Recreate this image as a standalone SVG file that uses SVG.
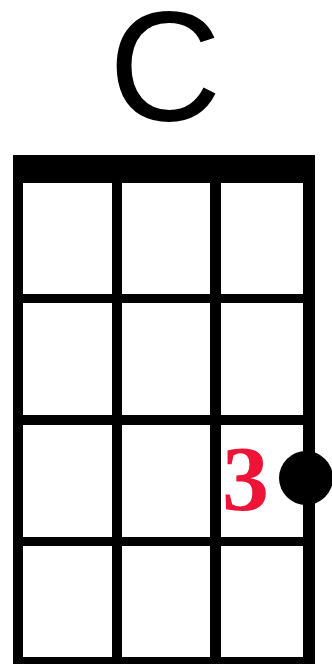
<svg xmlns="http://www.w3.org/2000/svg" width="332" height="664" viewBox="0 0 332 664">
<style>
.g{fill:#000}
.title{font-family:"Liberation Sans",Arial,sans-serif;font-size:156px;fill:#000}
.finger{font-family:"Liberation Serif","Times New Roman",serif;font-weight:bold;font-size:94px;fill:#ee1438}
</style>
<rect width="332" height="664" fill="#fff"/>
<g id="title"><text class="title" x="165" y="120" text-anchor="middle">C</text></g>
<g id="fretboard">
<rect class="g" x="13" y="155" width="302" height="28"/>
<rect class="g" x="13" y="155" width="10" height="509"/>
<rect class="g" x="112" y="155" width="10" height="509"/>
<rect class="g" x="210" y="155" width="11" height="509"/>
<rect class="g" x="303" y="155" width="12" height="509"/>
<rect class="g" x="13" y="294" width="302" height="9"/>
<rect class="g" x="13" y="415" width="302" height="10"/>
<rect class="g" x="13" y="537" width="302" height="9"/>
<rect class="g" x="13" y="657" width="302" height="7"/>
</g>
<g id="dot"><circle cx="306" cy="478" r="27" fill="#000"/></g>
<g id="finger"><text class="finger" x="222" y="510">3</text></g>
</svg>
